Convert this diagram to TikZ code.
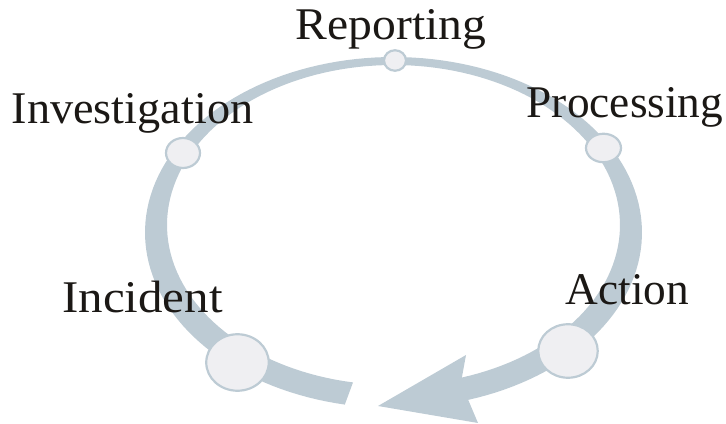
\documentclass[tikz,border=0pt]{standalone}
\usepackage{fontspec}
\setmainfont{Liberation Serif}
\usetikzlibrary{shapes.geometric}
\definecolor{bandgrey}{HTML}{BDCBD4}
\definecolor{discfill}{HTML}{EFEFF2}
\definecolor{inkdark}{HTML}{1B1815}
\begin{document}
\begin{tikzpicture}[x=0.75pt,y=-0.75pt,
  disc/.style={ellipse, draw=bandgrey, fill=discfill, inner sep=0pt, line width=2.2*0.75pt},
  stage/.style={anchor=base, inner sep=0pt, text=inkdark, font=\fontsize{34}{38}\selectfont}]

\useasboundingbox (0,0) rectangle (726,424);

% tapered cycle band: outer ellipse out to the arrow head, inner ellipse back
\fill[bandgrey]
  plot[domain=101.3:432.5,samples=150] ({393.5+248.5*cos(\x)},{232.5+175.5*sin(\x)})
  -- (478,423) -- (378,406) -- (466,355) -- (461.9,377.5)
  -- plot[domain=432.4:100.3,samples=150] ({393.5+226.5*cos(\x)},{225+160*sin(\x)})
  -- cycle;

% stage markers
\node[disc, minimum width=62.5*0.75pt, minimum height=56.5*0.75pt] (incident) at (237.5,362.5) {};
\node[disc, minimum width=34*0.75pt, minimum height=30*0.75pt] (investigation) at (183,153) {};
\node[disc, minimum width=22*0.75pt, minimum height=20.5*0.75pt] (reporting) at (395,60.5) {};
\node[disc, minimum width=35*0.75pt, minimum height=28.5*0.75pt] (processing) at (603.5,148) {};
\node[disc, minimum width=59.5*0.75pt, minimum height=53.5*0.75pt] (action) at (568,351) {};

% stage names
\node[stage] (lincident) at (142.5,313) {\scalebox{1.08}[1]{Incident}};
\node[stage] (linvestigation) at (132.5,124) {\scalebox{1.02}[1]{Investigation}};
\node[stage] (lreporting) at (391,40) {\scalebox{1.05}[1]{Reporting}};
\node[stage] (lprocessing) at (625,118) {Processing};
\node[stage] (laction) at (627.5,305) {Action};
\end{tikzpicture}
\end{document}
